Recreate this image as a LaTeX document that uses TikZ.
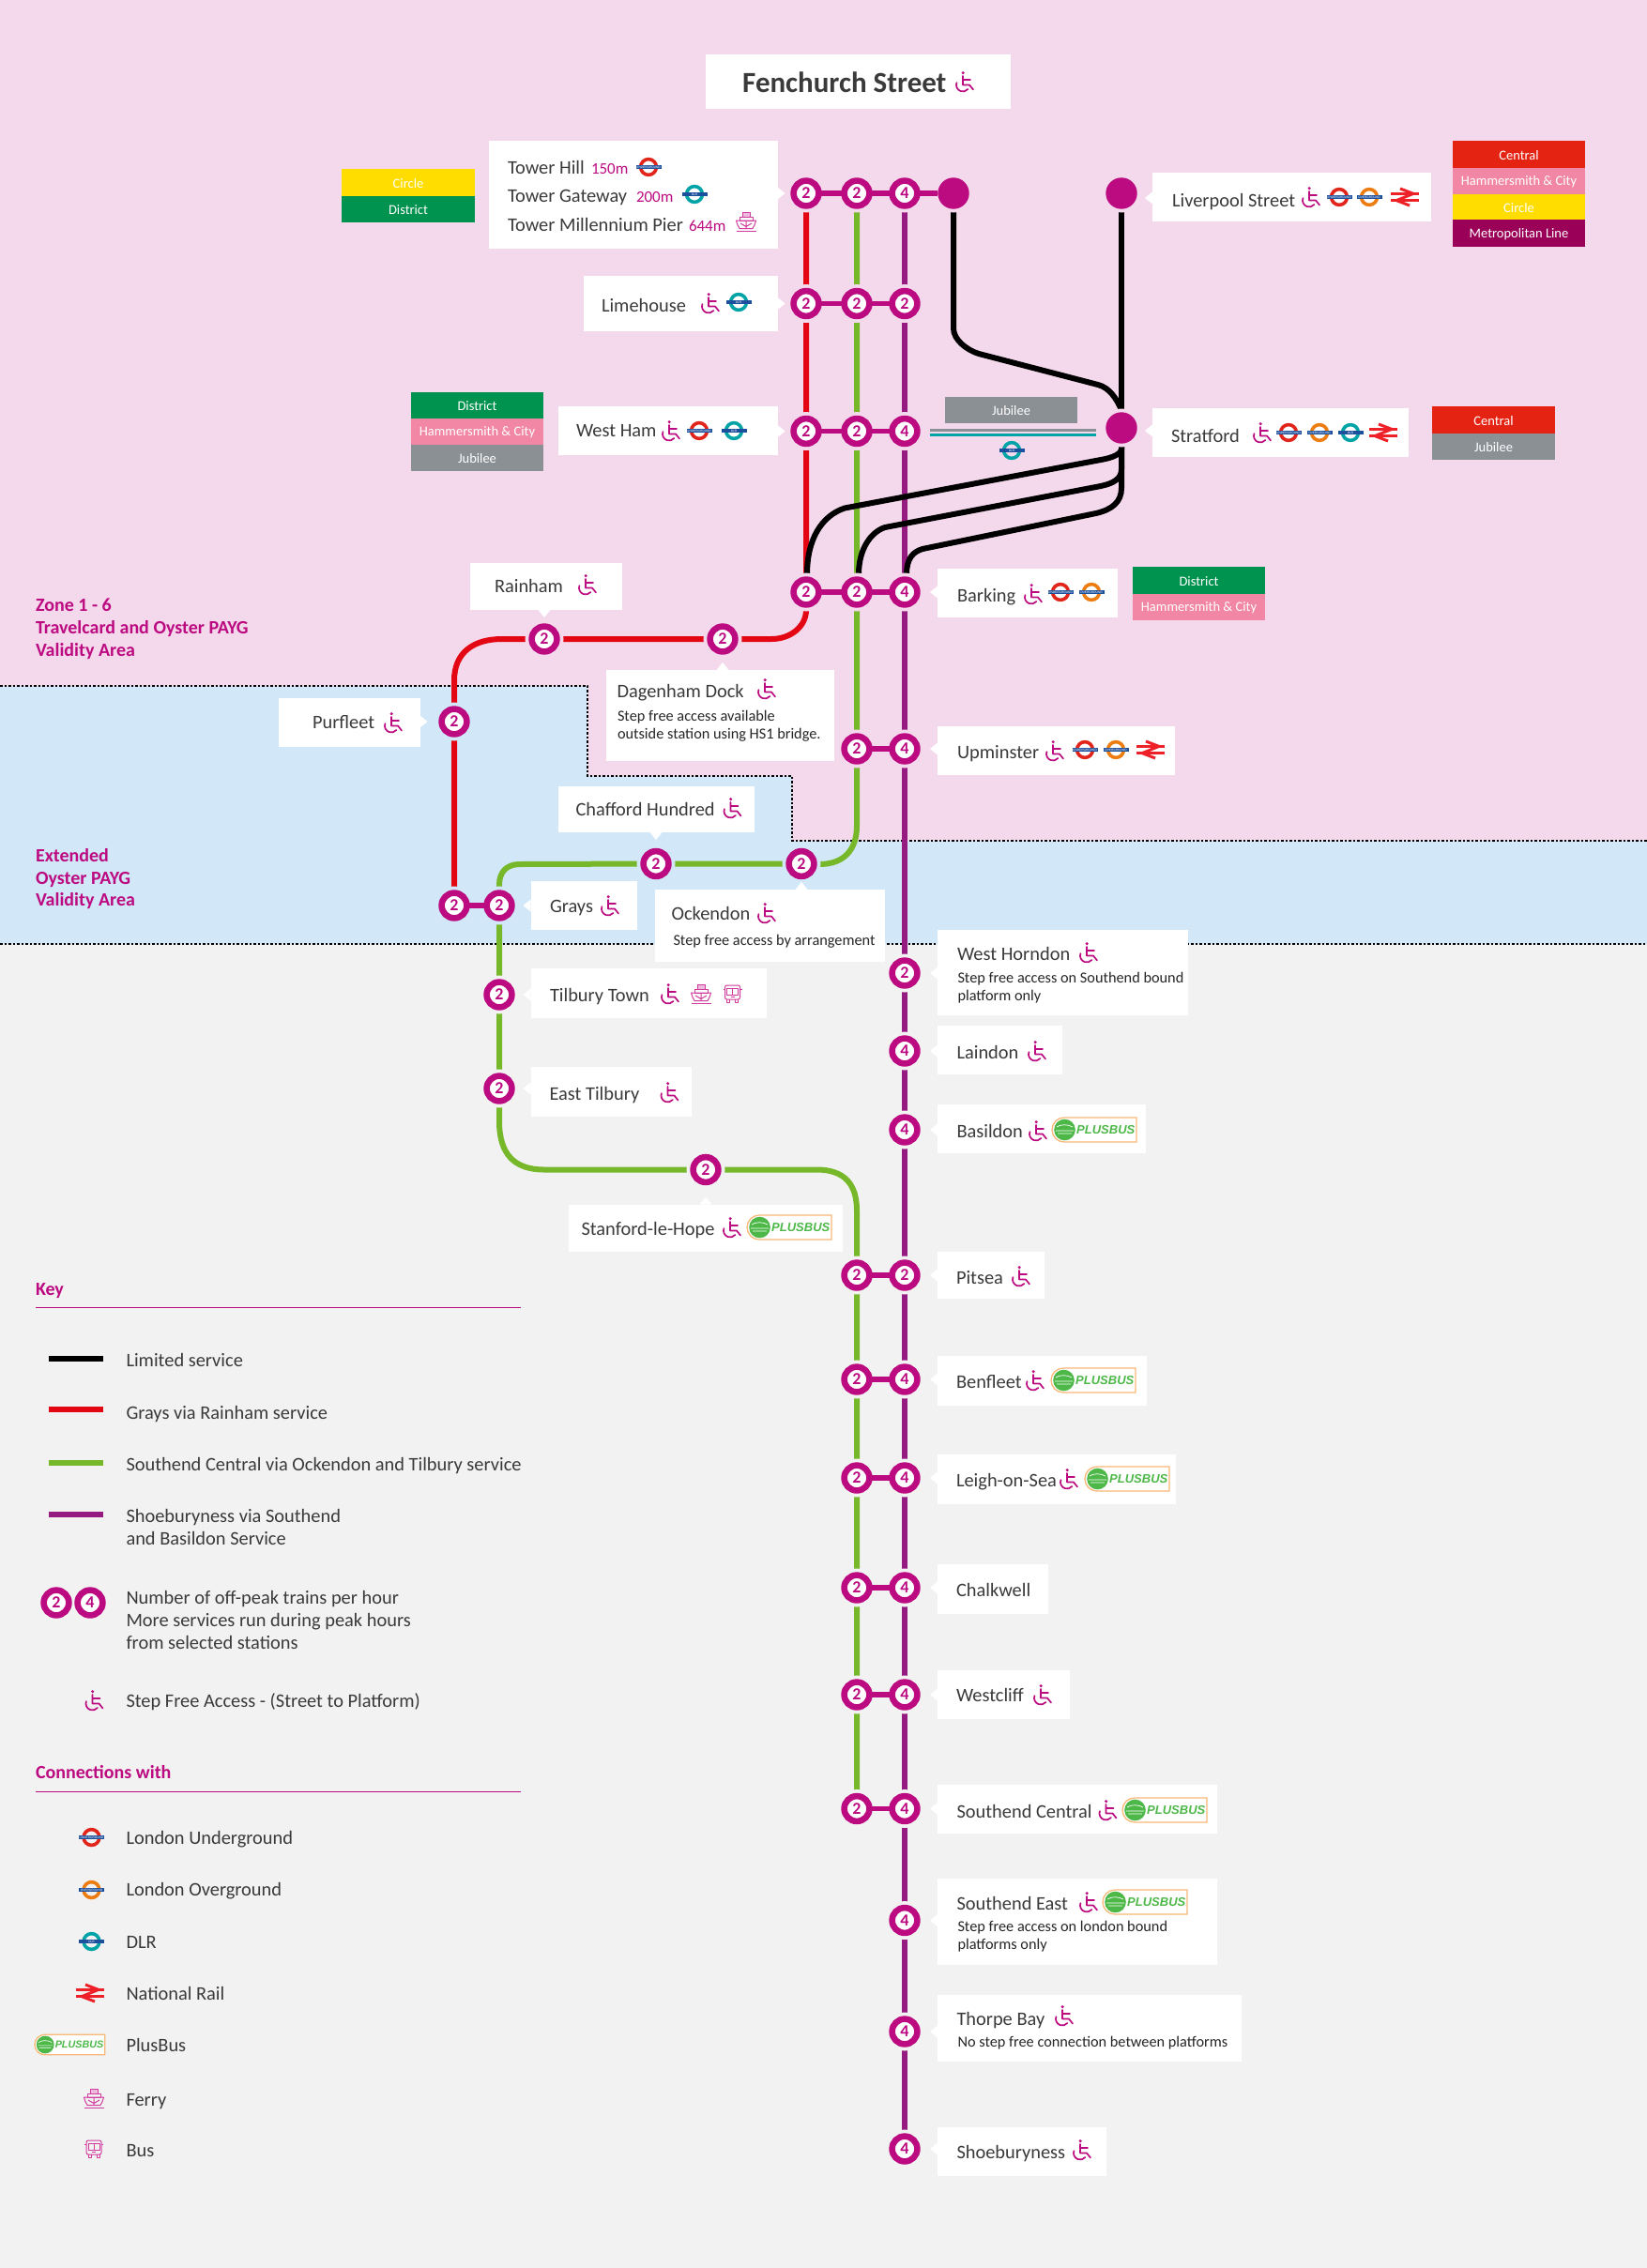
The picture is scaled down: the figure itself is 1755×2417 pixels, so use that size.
\documentclass[tikz,border=0pt]{standalone}
\usepackage{fontspec}
\setmainfont{Carlito}
\newfontfamily\lgfont{Liberation Sans}
\definecolor{pinkbg}{HTML}{F4D9EC}
\definecolor{bluebg}{HTML}{D2E8F9}
\definecolor{greybg}{HTML}{F2F2F2}
\definecolor{mag}{HTML}{BC0A80}
\definecolor{redl}{HTML}{E30613}
\definecolor{greenl}{HTML}{76B82A}
\definecolor{purpl}{HTML}{951B81}
\definecolor{tred}{HTML}{E42313}
\definecolor{tpink}{HTML}{F287A5}
\definecolor{tyel}{HTML}{FFDD00}
\definecolor{tpur}{HTML}{9B0058}
\definecolor{tgrn}{HTML}{00924F}
\definecolor{tgry}{HTML}{8B9094}
\definecolor{dark}{HTML}{3A3A3A}
\definecolor{rbar}{HTML}{1C4F9C}
\definecolor{lured}{HTML}{E1251B}
\definecolor{loor}{HTML}{EE7D11}
\definecolor{dlrt}{HTML}{00A3A6}
\definecolor{nrred}{HTML}{EE2028}
\definecolor{pbg}{HTML}{4DB848}
\definecolor{pbo}{HTML}{F9B878}
\definecolor{icp}{HTML}{D23C9E}
\pgfdeclarelayer{zones}\pgfdeclarelayer{lines}\pgfdeclarelayer{halo}\pgfdeclarelayer{bars}
\pgfsetlayers{zones,lines,halo,bars,main}
\tikzset{
 stn/.style={circle,draw=mag,fill=white,line width=6.6pt,minimum size=26.8pt,inner sep=0pt,outer sep=0pt,text=mag,font=\fontsize{18}{18}\selectfont\bfseries},
 stnend/.style={circle,fill=mag,minimum size=33.4pt,inner sep=0pt,outer sep=0pt},
 txt/.style={anchor=base west,inner sep=0pt,outer sep=0pt,text=dark,font=\fontsize{20.4}{20.4}\selectfont},
 subtxt/.style={anchor=base west,inner sep=0pt,outer sep=0pt,text=black!85,font=\fontsize{16.3}{16.3}\selectfont},
 magtxt/.style={anchor=base west,inner sep=0pt,outer sep=0pt,text=mag,font=\fontsize{17}{17}\selectfont},
 headtxt/.style={anchor=base west,inner sep=0pt,outer sep=0pt,text=mag,font=\fontsize{20}{20}\selectfont\bfseries},
 tagtxt/.style={inner sep=0pt,outer sep=0pt,text=white,font=\fontsize{14.5}{14.5}\selectfont},
 ln/.style={line width=6pt},
 bar/.style={line width=5.5pt,draw=mag},
 ic/.style={draw=icp,line width=1pt,line join=round},
}
\newcommand{\stnn}[6]{% name x y number halo style
 \begin{pgfonlayer}{halo}\fill[#5] (#2,#3) circle (20.5);\end{pgfonlayer}
 \node[#6] (#1) at (#2,#3) {#4};}
\newcommand{\st}[5]{\stnn{#1}{#2}{#3}{#4}{#5}{stn}}
\newcommand{\nm}[4]{\node[txt] (#1) at (#2,{#3+7.7}) {#4};}
\newcommand{\sbt}[4]{\node[subtxt] (#1) at (#2,{#3+6.7}) {#4};}
\newcommand{\mgt}[4]{\node[magtxt] (#1) at (#2,{#3+6.5}) {#4};}
\newcommand{\bx}[4]{\fill[white] (#1,#2) rectangle (#3,#4);}
\newcommand{\ptL}[2]{\fill[white] (#1,{#2-6.5}) -- ({#1-8},#2) -- (#1,{#2+6.5}) -- cycle;}
\newcommand{\ptR}[2]{\fill[white] (#1,{#2-6.5}) -- ({#1+8},#2) -- (#1,{#2+6.5}) -- cycle;}
\newcommand{\ptU}[2]{\fill[white] ({#1-6.5},#2) -- (#1,{#2-8}) -- ({#1+6.5},#2) -- cycle;}
\newcommand{\ptD}[2]{\fill[white] ({#1-6.5},#2) -- (#1,{#2+8}) -- ({#1+6.5},#2) -- cycle;}
\newcommand{\tg}[7]{% name x1 y1 x2 y2 colour text
 \fill[#6] (#2,#3) rectangle (#4,#5);
 \node[tagtxt] (#1) at ({(#2+#4)/2},{(#3+#5)/2+1}) {#7};}
\newcommand{\wc}[2]{\begin{scope}[shift={(#1,#2)}]
 \fill[mag] (-1.8,-9.3) circle (1.7);
 \draw[mag,line width=1.7pt,line join=round,line cap=round] (-2,-6) -- (-2,3.5) -- (5,3.5) -- (9,8.5);
 \draw[mag,line width=1.7pt,line cap=round] (-2,-2) -- (6,-2);
 \draw[mag,line width=1.7pt,line cap=round] (-8.6,1.1) arc[start angle=200,end angle=40,radius=7];
 \end{scope}}
\newcommand{\rnd}[4]{\begin{scope}[shift={(#1,#2)}]
 \draw[#3,line width=3.6pt] (0,0) circle (8.4);
 \fill[rbar] (-13.5,-2.3) rectangle (13.5,2.3);
 \node[inner sep=0pt,text=white,font=\lgfont\fontsize{3.2}{3.2}\selectfont] at (0,0) {#4};
 \end{scope}}
\newcommand{\lu}[2]{\rnd{#1}{#2}{lured}{UNDERGROUND}}
\newcommand{\lo}[2]{\rnd{#1}{#2}{loor}{OVERGROUND}}
\newcommand{\dlr}[2]{\rnd{#1}{#2}{dlrt}{DLR}}
\newcommand{\nr}[2]{\begin{scope}[shift={(#1,#2)}]
 \draw[nrred,line width=3pt] (-15,-3.6) -- (15,-3.6) (-15,3.6) -- (15,3.6);
 \draw[nrred,line width=3pt,line join=miter] (-5,-9) -- (9,-3.6) -- (-9,3.6) -- (5,9);
 \end{scope}}
\newcommand{\plusbus}[4]{\begin{scope}[shift={(#1,#2)},scale=#3]
 \draw[pbo,fill=white,line width=1.3pt] (13,-13) -- (90,-13) -- (90,13) -- (13,13) arc[start angle=90,end angle=270,radius=13] -- cycle;
 \fill[pbg] (13.5,0) circle (11.3);
 \draw[white,line width=.7pt] (5,-3) .. controls (9,-6) and (17,-6) .. (22,-3) (4,1) -- (23,1) (6,4) -- (21,4);
 \node[anchor=west,inner sep=0pt,text=pbg,font=\lgfont\fontsize{#4}{#4}\selectfont\bfseries\itshape] at (26,0) {PLUSBUS};
 \end{scope}}
\newcommand{\ferry}[2]{\begin{scope}[shift={(#1,#2)}]
 \draw[ic,fill=icp!35] (-4,-9.5) rectangle (4,-5);
 \draw[ic] (-7,-5) rectangle (7,-1);
 \draw[ic] (-10.5,-1) -- (10.5,-1) .. controls (9.5,3) and (8.5,5) .. (7,7.5) -- (-7,7.5) .. controls (-8.5,5) and (-9.5,3) .. (-10.5,-1) -- cycle;
 \draw[ic] (-6,2) -- (0,5.5) -- (6,2) (0,-1) -- (0,7.5);
 \draw[ic] (-10.5,10) -- (10.5,10);
 \end{scope}}
\newcommand{\bus}[2]{\begin{scope}[shift={(#1,#2)}]
 \draw[ic,rounded corners=2pt] (-8,-9) rectangle (8,6);
 \draw[ic] (-6,-6) rectangle (6,1);
 \draw[ic] (0,-6) -- (0,1);
 \draw[ic] (-6,6) -- (-6,9) -- (-3,9) -- (-3,6) (3,6) -- (3,9) -- (6,9) -- (6,6);
 \draw[ic] (-2,3.5) -- (2,3.5) (-10,-5) -- (-8,-5) (8,-5) -- (10,-5);
 \end{scope}}
\begin{document}
\begin{tikzpicture}[x=1pt,y=1pt,yscale=-1]
\useasboundingbox (0,0) rectangle (1755,2417);
\begin{pgfonlayer}{zones}
\fill[greybg] (0,0) rectangle (1755,2417);
\fill[pinkbg] (0,0) rectangle (1755,896);
\fill[bluebg] (0,731) -- (626,731) -- (626,827) -- (844,827) -- (844,896) -- (1755,896) -- (1755,1006) -- (0,1006) -- cycle;
\draw[black,line width=2pt,dash pattern=on 2.5pt off 2pt] (0,731) -- (626,731) -- (626,827) -- (844,827) -- (844,896) -- (1755,896);
\draw[black,line width=2pt,dash pattern=on 2.5pt off 2pt] (0,1006) -- (1755,1006);
\end{pgfonlayer}

% stations
\st{tA}{859}{206}{2}{pinkbg}\st{tB}{913}{206}{2}{pinkbg}\st{tC}{964}{206}{4}{pinkbg}
\stnn{tD}{1016}{206}{}{pinkbg}{stnend}
\stnn{liv}{1195}{206}{}{pinkbg}{stnend}
\stnn{str}{1195}{456}{}{pinkbg}{stnend}
\st{lA}{859}{323.5}{2}{pinkbg}\st{lB}{913}{323.5}{2}{pinkbg}\st{lC}{964}{323.5}{2}{pinkbg}
\st{wA}{859}{459.5}{2}{pinkbg}\st{wB}{913}{459.5}{2}{pinkbg}\st{wC}{964}{459.5}{4}{pinkbg}
\st{bA}{859}{631}{2}{pinkbg}\st{bB}{913}{631}{2}{pinkbg}\st{bC}{964}{631}{4}{pinkbg}
\st{rain}{580}{681}{2}{pinkbg}\st{dag}{770}{681}{2}{pinkbg}
\st{purf}{484}{769}{2}{bluebg}
\st{uB}{913}{798}{2}{pinkbg}\st{uC}{964}{798}{4}{pinkbg}
\st{chaf}{699}{920.5}{2}{bluebg}\st{ock}{854}{920.5}{2}{bluebg}
\st{gA}{484}{965}{2}{bluebg}\st{gB}{532}{965}{2}{bluebg}
\st{horn}{964}{1037}{2}{greybg}
\st{tilb}{532}{1060}{2}{greybg}
\st{lain}{964}{1120}{4}{greybg}
\st{etil}{532}{1160}{2}{greybg}
\st{basi}{964}{1204}{4}{greybg}
\st{stan}{752}{1246.5}{2}{greybg}
\st{pA}{913}{1359}{2}{greybg}\st{pB}{964}{1359}{2}{greybg}
\st{benA}{913}{1470}{2}{greybg}\st{benB}{964}{1470}{4}{greybg}
\st{leiA}{913}{1575}{2}{greybg}\st{leiB}{964}{1575}{4}{greybg}
\st{chaA}{913}{1692}{2}{greybg}\st{chaB}{964}{1692}{4}{greybg}
\st{wesA}{913}{1806}{2}{greybg}\st{wesB}{964}{1806}{4}{greybg}
\st{socA}{913}{1927.5}{2}{greybg}\st{socB}{964}{1927.5}{4}{greybg}
\st{soe}{964}{2046.5}{4}{greybg}
\st{thor}{964}{2165}{4}{greybg}
\st{shoe}{964}{2290}{4}{greybg}

% coloured lines
\begin{pgfonlayer}{lines}
\draw[ln,redl] (tA.center) -- (lA.center) -- (wA.center) -- (bA.center) -- (859,650) .. controls (859,668) and (842,681) .. (822,681) -- (dag.center) -- (rain.center) -- (535,681) .. controls (505,681) and (484,695) .. (484,725) -- (purf.center) -- (gA.center);
\draw[ln,greenl] (tB.center) -- (lB.center) -- (wB.center) -- (bB.center) -- (uB.center) -- (913,880) .. controls (913,906) and (899,921) .. (873,921) -- (ock.center) -- (chaf.center) -- (554,921) .. controls (540,921) and (532,929) .. (532,943) -- (gB.center) -- (tilb.center) -- (etil.center) -- (532,1195) .. controls (532,1230) and (548,1246.5) .. (580,1246.5) -- (stan.center) -- (870,1246.5) .. controls (900,1246.5) and (913,1262) .. (913,1290) -- (pA.center) -- (benA.center) -- (leiA.center) -- (chaA.center) -- (wesA.center) -- (socA.center);
\draw[ln,purpl] (tC.center) -- (lC.center) -- (wC.center) -- (bC.center) -- (uC.center) -- (horn.center) -- (lain.center) -- (basi.center) -- (pB.center) -- (benB.center) -- (leiB.center) -- (chaB.center) -- (wesB.center) -- (socB.center) -- (soe.center) -- (thor.center) -- (shoe.center);
% limited service
\draw[ln,black] (tD.center) -- (1016,350) .. controls (1016,362) and (1030,373) .. (1043,377) -- (1170,410) .. controls (1182,413) and (1190,425) .. (1195,437);
\draw[ln,black] (liv.center) -- (str.center);
\draw[ln,black] (str.center) -- (1195,478) .. controls (1195,484) and (1185,488) .. (1173,490) -- (900,541.5) .. controls (875,550) and (860,575) .. (860,612);
\draw[ln,black] (str.center) -- (1195,500) .. controls (1195,510) and (1187,515) .. (1173,518) -- (943,562) .. controls (928,567) and (915,585) .. (915,612);
\draw[ln,black] (str.center) -- (1195,520) .. controls (1195,535) and (1185,543) .. (1168,547) -- (983,585) .. controls (973,588) and (966,595) .. (966,612);
\end{pgfonlayer}

% bars joining the platforms of a station
\begin{pgfonlayer}{bars}
\draw[bar] (tA) -- (tB); \draw[bar] (tB) -- (tC); \draw[bar] (tC) -- (tD);
\draw[bar] (lA) -- (lB); \draw[bar] (lB) -- (lC);
\draw[bar] (wA) -- (wB); \draw[bar] (wB) -- (wC);
\draw[bar] (bA) -- (bB); \draw[bar] (bB) -- (bC);
\draw[bar] (uB) -- (uC); \draw[bar] (gA) -- (gB); \draw[bar] (pA) -- (pB);
\draw[bar] (benA) -- (benB); \draw[bar] (leiA) -- (leiB); \draw[bar] (chaA) -- (chaB);
\draw[bar] (wesA) -- (wesB); \draw[bar] (socA) -- (socB);
\end{pgfonlayer}

% title
\bx{752}{58}{1077}{115.5}
\node[anchor=base west,inner sep=0pt,text=dark,font=\fontsize{31}{31}\selectfont\bfseries] (title) at (791,98) {Fenchurch Street};
\wc{1028}{87}

% Tower
\bx{521}{150}{828.5}{265}\ptR{828.5}{206}
\nm{nTH}{541}{178}{Tower Hill}\mgt{mTH}{630}{179}{150m}\lu{691}{178}
\nm{nTG}{541}{208}{Tower Gateway}\mgt{mTG}{678}{209}{200m}\dlr{740}{207}
\nm{nTM}{541}{239}{Tower Millennium Pier}\mgt{mTM}{734}{240}{644m}\ferry{795}{236}
\tg{cCi}{364}{180}{506}{208.5}{tyel}{Circle}
\tg{cDi}{364}{208.5}{506}{237}{tgrn}{District}

% Limehouse
\bx{622}{293.5}{828.5}{352.5}\ptR{828.5}{323.5}
\nm{nLi}{641}{325}{Limehouse}\wc{757}{323}\dlr{787}{322}

% West Ham
\bx{594.5}{432.5}{828.5}{485}\ptR{828.5}{459.5}
\nm{nWH}{614}{458}{West Ham}\wc{715}{459}\lu{745}{459}\dlr{782}{459}
\tg{wDi}{438}{417.5}{579}{446}{tgrn}{District}
\tg{wHC}{438}{446}{579}{474}{tpink}{Hammersmith \& City}
\tg{wJu}{438}{474}{579}{502}{tgry}{Jubilee}

% Liverpool Street
\bx{1228}{184}{1525}{236}\ptL{1228}{211}
\nm{nLS}{1249}{213}{Liverpool Street}\wc{1397}{210}\lu{1427}{210}\lo{1459}{210}\nr{1497}{210}
\tg{lsC}{1548}{150}{1689}{179}{tred}{Central}
\tg{lsH}{1548}{179}{1689}{206.5}{tpink}{Hammersmith \& City}
\tg{lsO}{1548}{206.5}{1689}{234}{tyel}{Circle}
\tg{lsM}{1548}{234}{1689}{263}{tpur}{Metropolitan Line}

% Stratford
\bx{1228}{435}{1501}{487}\ptL{1228}{459}
\nm{nSt}{1248}{464}{Stratford}\wc{1345}{461}\lu{1373}{461}\lo{1406}{461}\dlr{1439}{461}\nr{1474}{461}
\tg{sC}{1526}{433}{1657}{461.5}{tred}{Central}
\tg{sJ}{1526}{461.5}{1657}{490}{tgry}{Jubilee}

% Jubilee / DLR link
\tg{jJ}{1007}{423}{1148}{451}{tgry}{Jubilee}
\draw[tgry,line width=3.5pt] (991,458.5) -- (1168,458.5);
\draw[dlrt,line width=3.5pt] (991,463.5) -- (1168,463.5);
\dlr{1078}{480}

% Barking
\bx{999}{606}{1191}{657.5}\ptL{999}{631}
\nm{nBa}{1020}{634}{Barking}\wc{1101}{633}\lu{1130}{631}\lo{1163}{631}
\tg{bD}{1207}{604}{1348}{633}{tgrn}{District}
\tg{bH}{1207}{633}{1348}{661}{tpink}{Hammersmith \& City}

% Rainham
\bx{501}{600}{663}{650}\ptD{580}{650}
\nm{nRa}{527}{624}{Rainham}\wc{626}{623}

% Dagenham Dock
\bx{645.5}{714}{889}{810.5}\ptU{770}{714}
\nm{nDa}{657.5}{736}{Dagenham Dock}\wc{817}{734}
\sbt{sDa1}{658}{762}{Step free access available}
\sbt{sDa2}{658}{781}{outside station using HS1 bridge.}

% Purfleet
\bx{296.5}{743.5}{447.5}{795.5}\ptR{447.5}{769}
\nm{nPu}{333}{769}{Purfleet}\wc{419}{770}

% Upminster
\bx{999}{774}{1252}{825.5}\ptL{999}{798}
\nm{nUp}{1020}{801}{Upminster}\wc{1124}{800}\lu{1156}{799}\lo{1189}{799}\nr{1226}{799}

% Chafford Hundred
\bx{595}{838}{803.5}{887}\ptD{699}{887}
\nm{nCh}{613.5}{862}{Chafford Hundred}\wc{780.5}{861}

% Grays
\bx{565.5}{939}{679}{990.5}\ptL{565.5}{965}
\nm{nGr}{586}{965}{Grays}\wc{650}{965}

% Ockendon
\bx{698}{948}{943}{1024.5}\ptU{854}{948}
\nm{nOc}{715.5}{973}{Ockendon}\wc{817}{973}
\sbt{sOc}{717.5}{1001}{Step free access by arrangement}

% Tilbury Town
\bx{565.5}{1032}{817}{1085}\ptL{565.5}{1060}
\nm{nTi}{586}{1060}{Tilbury Town}\wc{714}{1059}\ferry{747}{1059}\bus{780.5}{1059}

% West Horndon
\bx{999}{990.5}{1266}{1082}\ptL{999}{1037}
\nm{nHo}{1020}{1016}{West Horndon}\wc{1160}{1015}
\sbt{sHo1}{1020.5}{1041}{Step free access on Southend bound}
\sbt{sHo2}{1020.5}{1060}{platform only}

% East Tilbury
\bx{565.5}{1137}{736.5}{1190}\ptL{565.5}{1160}
\nm{nET}{585.5}{1165}{East Tilbury}\wc{713.5}{1164}

% Laindon
\bx{999}{1093}{1131.5}{1145}\ptL{999}{1120}
\nm{nLa}{1019.5}{1121}{Laindon}\wc{1105}{1120}

% Basildon
\bx{999}{1177}{1221}{1229}\ptL{999}{1204}
\nm{nBs}{1019.5}{1205}{Basildon}\wc{1106}{1205}\plusbus{1121}{1204}{1}{13}

% Stanford-le-Hope
\bx{605.5}{1283.5}{898}{1334}\ptU{752}{1283.5}
\nm{nSH}{619.5}{1309}{Stanford-le-Hope}\wc{780}{1308}\plusbus{796}{1308}{1}{13}

% Pitsea
\bx{999}{1334}{1112.5}{1384}\ptL{999}{1359}
\nm{nPi}{1019}{1361}{Pitsea}\wc{1088}{1360}

% Benfleet
\bx{999}{1445}{1222}{1498}\ptL{999}{1470}
\nm{nBe}{1019}{1472}{Benfleet}\wc{1103}{1471}\plusbus{1120}{1471}{1}{13}

% Leigh-on-Sea
\bx{999}{1550}{1253}{1603}\ptL{999}{1575}
\nm{nLe}{1019}{1577}{Leigh-on-Sea}\wc{1139}{1576}\plusbus{1156}{1576}{1}{13}

% Chalkwell
\bx{999}{1667}{1117}{1720}\ptL{999}{1692}
\nm{nCk}{1019}{1694}{Chalkwell}

% Westcliff
\bx{999}{1780}{1140}{1832}\ptL{999}{1806}
\nm{nWe}{1019}{1806}{Westcliff}\wc{1111}{1806}

% Southend Central
\bx{999}{1902}{1296.5}{1954}\ptL{999}{1927.5}
\nm{nSC}{1019.5}{1930}{Southend Central}\wc{1180.5}{1929}\plusbus{1196}{1929}{1}{13}

% Southend East
\bx{999}{2002}{1296.5}{2094}\ptL{999}{2046.5}
\nm{nSE}{1019.5}{2028}{Southend East}\wc{1160}{2027}\plusbus{1175}{2027}{1}{13}
\sbt{sSE1}{1020.5}{2052}{Step free access on london bound}
\sbt{sSE2}{1020.5}{2071}{platforms only}

% Thorpe Bay
\bx{999}{2126}{1323}{2197}\ptL{999}{2165}
\nm{nTh}{1019.5}{2151}{Thorpe Bay}\wc{1134}{2148}
\sbt{sTh}{1020.5}{2175}{No step free connection between platforms}

% Shoeburyness
\bx{999}{2267}{1179}{2319}\ptL{999}{2290}
\nm{nSh}{1019.5}{2293}{Shoeburyness}\wc{1153}{2291}

% zone labels
\node[headtxt] (z1a) at (38,651) {Zone 1 - 6};
\node[headtxt] (z1b) at (38,675) {Travelcard and Oyster PAYG};
\node[headtxt] (z1c) at (38,699) {Validity Area};
\node[headtxt] (z2a) at (38,918) {Extended};
\node[headtxt] (z2b) at (38,942) {Oyster PAYG};
\node[headtxt] (z2c) at (38,965.5) {Validity Area};

% key
\node[headtxt] (kKey) at (38,1380) {Key};
\draw[mag,line width=.9pt] (38,1393) -- (555,1393);
\draw[ln,black] (51.5,1448) -- (110,1448);
\nm{k1}{134.5}{1449}{Limited service}
\draw[ln,redl] (51.5,1502) -- (110,1502);
\nm{k2}{134.5}{1505}{Grays via Rainham service}
\draw[ln,greenl] (51.5,1558.5) -- (110,1558.5);
\nm{k3}{134.5}{1560}{Southend Central via Ockendon and Tilbury service}
\draw[ln,purpl] (51.5,1614) -- (110,1614);
\nm{k4a}{134.5}{1615}{Shoeburyness via Southend}
\nm{k4b}{134.5}{1639}{and Basildon Service}
\node[stn] (kA) at (60,1708) {2};
\node[stn] (kB) at (96,1708) {4};
\nm{k5a}{134.5}{1701.5}{Number of off-peak trains per hour}
\nm{k5b}{134.5}{1725.5}{More services run during peak hours}
\nm{k5c}{134.5}{1749.5}{from selected stations}
\wc{100.5}{1812}
\nm{k6}{134.5}{1812}{Step Free Access - (Street to Platform)}
\node[headtxt] (kCon) at (38,1895) {Connections with};
\draw[mag,line width=.9pt] (38,1909) -- (555,1909);
\lu{97.5}{1958}\nm{k7}{134.5}{1958}{London Underground}
\lo{97.5}{2014}\nm{k8}{134.5}{2013}{London Overground}
\dlr{97.5}{2069}\nm{k9}{134.5}{2069}{DLR}
\nr{96}{2124}\nm{k10}{134.5}{2124}{National Rail}
\plusbus{37}{2179}{.83}{10.8}\nm{k11}{134.5}{2179}{PlusBus}
\ferry{100}{2236}\nm{k12}{134.5}{2237}{Ferry}
\bus{100}{2290}\nm{k13}{134.5}{2291}{Bus}
\end{tikzpicture}
\end{document}
